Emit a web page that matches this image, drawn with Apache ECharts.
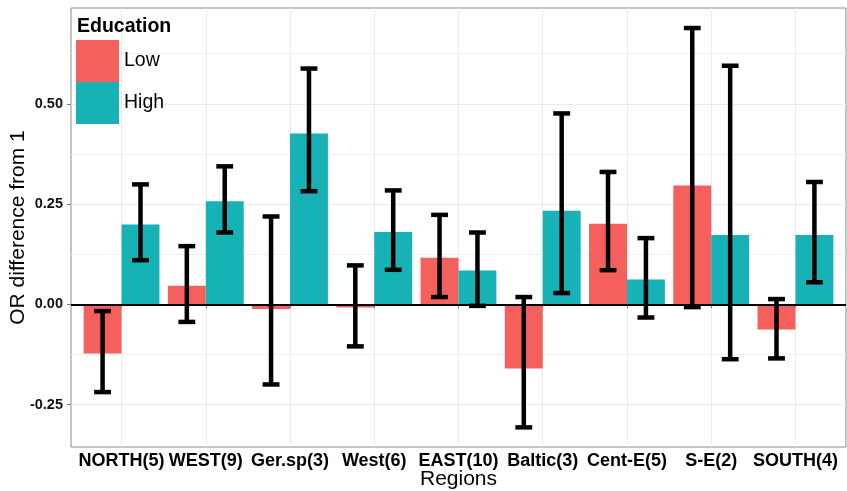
<!DOCTYPE html>
<html>
<head>
    <meta charset="UTF-8">
    <title>OR difference from 1 by region and education</title>
    <script type="text/javascript" src="https://cdn.jsdelivr.net/npm/echarts@6/dist/echarts.min.js"></script>
</head>
<body style="margin: 0;overflow: hidden;background: #fff;">
<div id="chart" style="width: 847px;height: 491px;"></div>
<script type="text/javascript">
    var regions = ['NORTH(5)', 'WEST(9)', 'Ger.sp(3)', 'West(6)', 'EAST(10)', 'Baltic(3)', 'Cent-E(5)', 'S-E(2)', 'SOUTH(4)'];
    var lowVal = [-0.123, 0.046, -0.012, -0.008, 0.116, -0.160, 0.201, 0.296, -0.063];
    var lowLo = [-0.219, -0.044, -0.200, -0.105, 0.018, -0.307, 0.085, -0.007, -0.135];
    var lowHi = [-0.017, 0.145, 0.219, 0.097, 0.223, 0.018, 0.330, 0.689, 0.013];
    var highVal = [0.199, 0.257, 0.426, 0.180, 0.084, 0.233, 0.062, 0.173, 0.173];
    var highLo = [0.110, 0.179, 0.282, 0.086, -0.004, 0.028, -0.033, -0.137, 0.055];
    var highHi = [0.299, 0.344, 0.588, 0.284, 0.179, 0.476, 0.165, 0.595, 0.305];
    var yTicks = [-0.25, 0, 0.25, 0.5];
    var yMinor = [-0.125, 0.125, 0.375, 0.625];

    var font = "'Liberation Sans', Arial, sans-serif";
    var lowColor = '#F6605C', highColor = '#17B2B6';
    var xPos = regions.map(function (r, k) { return k + 1; });

    // dodged bar: side -1 = left half, 1 = right half
    function barRender(side) {
        return function (params, api) {
            var i = api.value(0), v = api.value(1);
            var x0 = side < 0 ? i - 0.45 : i;
            var p0 = api.coord([x0, 0]), p1 = api.coord([x0 + 0.45, v]);
            return {
                type: 'rect',
                shape: {x: p0[0], y: Math.min(p0[1], p1[1]), width: p1[0] - p0[0], height: Math.abs(p1[1] - p0[1])},
                style: {fill: api.visual('color')}
            };
        };
    }

    function errRender(side) {
        return function (params, api) {
            var x = api.value(0) + side * 0.225;
            var lo = api.coord([x, api.value(1)]), hi = api.coord([x, api.value(2)]);
            var l = api.coord([x - 0.1, 0])[0], r = api.coord([x + 0.1, 0])[0];
            var st = {stroke: '#000', lineWidth: 4.5, fill: null};
            return {
                type: 'group',
                children: [
                    {type: 'line', shape: {x1: lo[0], y1: lo[1], x2: hi[0], y2: hi[1]}, style: st},
                    {type: 'line', shape: {x1: l, y1: lo[1], x2: r, y2: lo[1]}, style: st},
                    {type: 'line', shape: {x1: l, y1: hi[1], x2: r, y2: hi[1]}, style: st}
                ]
            };
        };
    }

    var chart = echarts.init(document.getElementById('chart'));
    var option = {
        animation: false,
        backgroundColor: '#fff',
        title: {
            text: 'Education',
            left: 77,
            top: 17,
            padding: 0,
            textStyle: {fontFamily: font, fontSize: 19.5, fontWeight: 'bold', color: '#000'}
        },
        legend: {
            orient: 'vertical',
            left: 76,
            top: 40,
            padding: 0,
            itemGap: 0,
            itemWidth: 43,
            itemHeight: 42,
            icon: 'rect',
            selectedMode: false,
            data: ['Low', 'High'],
            textStyle: {fontFamily: font, fontSize: 19.5, color: '#000'}
        },
        grid: {
            left: 71, right: 1, top: 8, bottom: 44,
            outerBoundsMode: 'none',
            containLabel: false,
            show: true, borderColor: '#8a8a8a', borderWidth: 1, backgroundColor: 'transparent'
        },
        xAxis: {
            type: 'value',
            min: 0.4,
            max: 9.6,
            name: 'Regions',
            nameLocation: 'middle',
            nameGap: 22,
            nameMoveOverlap: false,
            nameTextStyle: {fontFamily: font, fontSize: 21, color: '#000'},
            axisLine: {show: false},
            axisTick: {show: true, length: 4, customValues: xPos, lineStyle: {color: '#7a7a7a'}},
            axisLabel: {
                customValues: xPos,
                margin: 5,
                fontFamily: font, fontSize: 18, fontWeight: 'bold', color: '#000',
                formatter: function (v) { return regions[Math.round(v) - 1]; }
            },
            splitLine: {show: true, lineStyle: {color: '#ebebeb', width: 1}}
        },
        yAxis: [{
            type: 'value',
            min: -0.356,
            max: 0.739,
            name: 'OR difference from 1',
            nameLocation: 'middle',
            nameGap: 42,
            nameMoveOverlap: false,
            nameTextStyle: {fontFamily: font, fontSize: 21, color: '#000'},
            axisLine: {show: false},
            axisTick: {show: true, length: 4, customValues: yTicks, lineStyle: {color: '#7a7a7a'}},
            axisLabel: {
                customValues: yTicks,
                margin: 8,
                fontFamily: font, fontSize: 14.5, fontWeight: 'bold', color: '#111',
                formatter: function (v) { return v.toFixed(2); }
            },
            splitLine: {show: true, lineStyle: {color: '#ebebeb', width: 1}}
        }, {
            type: 'value',
            min: -0.356,
            max: 0.739,
            position: 'left',
            axisLine: {show: false},
            axisTick: {show: false, customValues: yMinor},
            axisLabel: {show: false, customValues: yMinor},
            splitLine: {show: true, lineStyle: {color: '#f0f0f0', width: 1}}
        }],
        series: [{
            name: 'Low',
            type: 'custom',
            itemStyle: {color: lowColor},
            renderItem: barRender(-1),
            data: xPos.map(function (x, k) { return [x, lowVal[k]]; }),
            z: 2
        }, {
            name: 'High',
            type: 'custom',
            itemStyle: {color: highColor},
            renderItem: barRender(1),
            data: xPos.map(function (x, k) { return [x, highVal[k]]; }),
            z: 2,
            markLine: {
                silent: true,
                symbol: 'none',
                label: {show: false},
                lineStyle: {color: '#000', width: 2, type: 'solid'},
                data: [{yAxis: 0}],
                z: 3
            }
        }, {
            name: 'lowErr',
            type: 'custom',
            renderItem: errRender(-1),
            data: xPos.map(function (x, k) { return [x, lowLo[k], lowHi[k]]; }),
            z: 4
        }, {
            name: 'highErr',
            type: 'custom',
            renderItem: errRender(1),
            data: xPos.map(function (x, k) { return [x, highLo[k], highHi[k]]; }),
            z: 4
        }]
    };
    chart.setOption(option);
</script>
</body>
</html>
